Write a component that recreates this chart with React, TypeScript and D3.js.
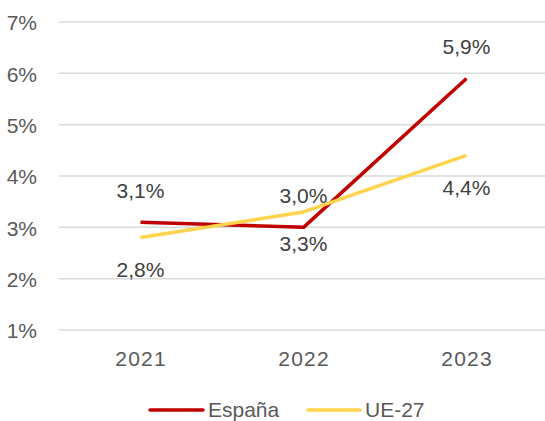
import React from "react";
import * as d3 from "d3";

const years = ["2021", "2022", "2023"];
const espana = [3.1, 3.0, 5.9];
const ue27 = [2.8, 3.3, 4.4];
const yTicks = [1, 2, 3, 4, 5, 6, 7];
const seriesNames = ["España", "UE-27"];

const W = 545, H = 421;
const FONT = "'Liberation Sans', Arial, sans-serif";
const TXT = "#595959";
const FS = 21;

export default function App() {
  const x = d3.scalePoint<string>().domain(years).range([140.5, 466.5]);
  const y = d3.scaleLinear().domain([1, 7]).range([330, 22]);
  const line = d3.line<number>().x((_, i) => x(years[i])!).y((d) => y(d));
  const fmt = (v: number) => v.toFixed(1).replace(".", ",") + "%";
  const series = [
    { name: seriesNames[0], data: espana, color: "#C00000", dy: -32 },
    { name: seriesNames[1], data: ue27, color: "#FFD34B", dy: 32 },
  ];
  return (
    <svg width={W} height={H} style={{ position: "absolute", left: 0, top: 0, background: "#fff" }} fontFamily={FONT}>
      {yTicks.map((t) => (
        <g key={t}>
          <line x1={59} x2={545} y1={y(t)} y2={y(t)} stroke="#D9D9D9" strokeWidth={1.5} />
          <text x={37} y={y(t) + 1} dy="0.35em" textAnchor="end" fontSize={FS} fill={TXT}>{t}%</text>
        </g>
      ))}
      {years.map((yr) => (
        <text key={yr} x={x(yr)! + 0.6} y={359} dy="0.35em" textAnchor="middle" fontSize={FS} letterSpacing={1.2} fill={TXT}>{yr}</text>
      ))}
      {series.map((s) => (
        <path key={s.name} d={line(s.data)!} fill="none" stroke={s.color} strokeWidth={3.5} strokeLinejoin="round" />
      ))}
      {series.map((s) =>
        s.data.map((v, i) => (
          <text key={s.name + i} x={x(years[i])} y={y(v) + s.dy} dy="0.35em" textAnchor="middle" fontSize={FS} fill="#404040">{fmt(v)}</text>
        ))
      )}
      <g>
        <line x1={150} x2={203} y1={410} y2={410} stroke={series[0].color} strokeWidth={3.5} strokeLinecap="round" />
        <text x={208} y={410} dy="0.35em" fontSize={FS} fill={TXT}>{series[0].name}</text>
        <line x1={308} x2={360} y1={410} y2={410} stroke={series[1].color} strokeWidth={3.5} strokeLinecap="round" />
        <text x={365} y={410} dy="0.35em" fontSize={FS} fill={TXT}>{series[1].name}</text>
      </g>
    </svg>
  );
}
